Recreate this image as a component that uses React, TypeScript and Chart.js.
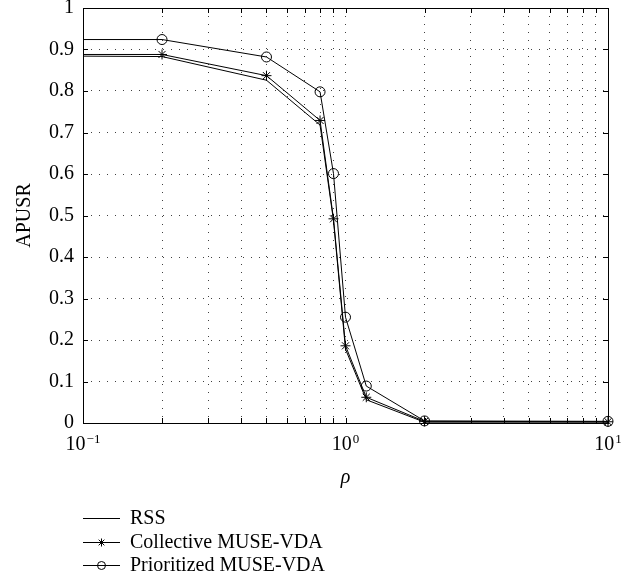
import React, { useEffect, useRef } from 'react';
import { Chart, registerables } from 'chart.js';

Chart.register(...registerables);

// ---- data ----
const rho = [0.1, 0.2, 0.5, 0.8, 0.9, 1.0, 1.2, 2, 10];
const rss = [0.884, 0.883, 0.826, 0.718, 0.488, 0.178, 0.056, 0.002, 0.002];
const collective = [0.888, 0.888, 0.837, 0.729, 0.492, 0.186, 0.062, 0.004, 0.003];
const prioritized = [0.924, 0.924, 0.882, 0.798, 0.601, 0.255, 0.089, 0.005, 0.004];
const seriesNames = ['RSS', 'Collective MUSE-VDA', 'Prioritized MUSE-VDA'];

const xGridTicks = [0.1, 0.2, 0.3, 0.4, 0.5, 0.6, 0.7, 0.8, 0.9, 1, 2, 3, 4, 5, 6, 7, 8, 9, 10];
const xMajorTicks = [0.1, 1, 10];
const xMajorBase = ['10', '10', '10'];
const xMajorExponents = ['\u22121', '0', '1'];
const yTicks = [0, 0.1, 0.2, 0.3, 0.4, 0.5, 0.6, 0.7, 0.8, 0.9, 1];
const yTickLabels = ['0', '0.1', '0.2', '0.3', '0.4', '0.5', '0.6', '0.7', '0.8', '0.9', '1'];

const xTitle = '\u03C1';
const yTitle = 'APUSR';

const FONT = "'Liberation Serif', 'Times New Roman', serif";

const decorPlugin = {
  id: 'decor',
  afterDraw(chart: any) {
    const { ctx, chartArea } = chart;
    const { left, right, top, bottom } = chartArea;
    const xs = chart.scales.x;
    const ys = chart.scales.y;
    ctx.save();
    ctx.strokeStyle = '#000';
    ctx.lineWidth = 1;
    ctx.setLineDash([]);
    // box
    ctx.strokeRect(Math.round(left) + 0.5, Math.round(top) + 0.5, Math.round(right - left), Math.round(bottom - top));
    // inward ticks
    const tl = 5;
    ctx.beginPath();
    xGridTicks.forEach((v) => {
      const px = Math.round(xs.getPixelForValue(v)) + 0.5;
      if (px <= left + 1 || px >= right - 1) return;
      ctx.moveTo(px, bottom);
      ctx.lineTo(px, bottom - tl);
      ctx.moveTo(px, top);
      ctx.lineTo(px, top + tl);
    });
    yTicks.forEach((v) => {
      const py = Math.round(ys.getPixelForValue(v)) + 0.5;
      if (py <= top + 1 || py >= bottom - 1) return;
      ctx.moveTo(left, py);
      ctx.lineTo(left + tl, py);
      ctx.moveTo(right, py);
      ctx.lineTo(right - tl, py);
    });
    ctx.stroke();

    // x tick labels with superscripts
    ctx.fillStyle = '#000';
    ctx.textBaseline = 'alphabetic';
    ctx.textAlign = 'left';
    xMajorTicks.forEach((v, i) => {
      const px = xs.getPixelForValue(v);
      ctx.font = `20px ${FONT}`;
      const bw = ctx.measureText(xMajorBase[i]).width;
      ctx.font = `13px ${FONT}`;
      const ew = ctx.measureText(xMajorExponents[i]).width;
      const total = bw + 1 + ew;
      const x0 = px - total / 2;
      ctx.font = `20px ${FONT}`;
      ctx.fillText(xMajorBase[i], x0, bottom + 27);
      ctx.font = `13px ${FONT}`;
      ctx.fillText(xMajorExponents[i], x0 + bw + 1, bottom + 20);
    });

    // legend
    const rowY0 = 518;
    const rowH = 23.5;
    chart.data.datasets.forEach((ds: any, i: number) => {
      const y = Math.round(rowY0 + i * rowH) + 0.5;
      ctx.strokeStyle = '#000';
      ctx.lineWidth = 1;
      ctx.beginPath();
      ctx.moveTo(83, y);
      ctx.lineTo(120, y);
      ctx.stroke();
      const cx = 101.5;
      if (ds.pointStyle === 'circle') {
        ctx.beginPath();
        ctx.arc(cx, y, 4, 0, Math.PI * 2);
        ctx.stroke();
      } else if (ds.pointStyle === 'star') {
        const r = 4;
        ctx.beginPath();
        for (let k = 0; k < 4; k++) {
          const a = (k * Math.PI) / 4;
          ctx.moveTo(cx - r * Math.cos(a), y - r * Math.sin(a));
          ctx.lineTo(cx + r * Math.cos(a), y + r * Math.sin(a));
        }
        ctx.stroke();
      }
      ctx.fillStyle = '#000';
      ctx.font = `20px ${FONT}`;
      ctx.textBaseline = 'middle';
      ctx.textAlign = 'left';
      ctx.fillText(ds.label, 130, y);
    });
    ctx.restore();
  },
};

export default function App() {
  const ref = useRef<HTMLCanvasElement>(null);
  useEffect(() => {
    const radii = rho.map((_, i) => (i === 0 ? 0 : 5));
    const mk = (vals: number[]) => rho.map((x, i) => ({ x, y: vals[i] }));
    const chart = new Chart(ref.current as HTMLCanvasElement, {
      type: 'line',
      data: {
        datasets: [
          {
            label: seriesNames[0],
            data: mk(rss),
            borderColor: '#000',
            borderWidth: 1,
            pointRadius: 0,
            pointStyle: false as any,
            tension: 0,
            clip: false as any,
          },
          {
            label: seriesNames[1],
            data: mk(collective),
            borderColor: '#000',
            borderWidth: 1,
            pointStyle: 'star',
            pointRadius: radii,
            pointBorderColor: '#000',
            pointBackgroundColor: 'rgba(0,0,0,0)',
            pointBorderWidth: 1,
            tension: 0,
            clip: false as any,
          },
          {
            label: seriesNames[2],
            data: mk(prioritized),
            borderColor: '#000',
            borderWidth: 1,
            pointStyle: 'circle',
            pointRadius: radii,
            pointBorderColor: '#000',
            pointBackgroundColor: 'rgba(0,0,0,0)',
            pointBorderWidth: 1,
            tension: 0,
            clip: false as any,
          },
        ],
      },
      options: {
        responsive: false,
        animation: false,
        events: [],
        layout: { padding: { left: 0, right: 22, top: 8, bottom: 86 } },
        plugins: { legend: { display: false }, tooltip: { enabled: false } },
        scales: {
          x: {
            type: 'logarithmic',
            min: 0.1,
            max: 10,
            afterBuildTicks: (s: any) => {
              s.ticks = xGridTicks.map((v) => ({ value: v }));
            },
            afterFit: (s: any) => {
              s.height = 70;
              s.paddingLeft = 0;
              s.paddingRight = 0;
            },
            ticks: { display: false },
            grid: { color: 'rgba(0,0,0,0.75)', lineWidth: 1, drawTicks: false },
            border: { display: false, dash: [1, 7] },
            title: {
              display: true,
              text: xTitle,
              color: '#000',
              font: { family: FONT, size: 20, style: 'italic' },
              padding: { top: 0, bottom: 3 },
            },
          },
          y: {
            type: 'linear',
            min: 0,
            max: 1,
            afterBuildTicks: (s: any) => {
              s.ticks = yTicks.map((v) => ({ value: v }));
            },
            afterFit: (s: any) => {
              s.width = 83;
              s.paddingTop = 0;
              s.paddingBottom = 0;
            },
            ticks: {
              color: '#000',
              padding: 9,
              font: { family: FONT, size: 20 },
              callback: (v: any) => {
                const idx = yTicks.findIndex((t) => Math.abs(t - Number(v)) < 1e-9);
                return idx >= 0 ? yTickLabels[idx] : '';
              },
            },
            grid: { color: 'rgba(0,0,0,0.75)', lineWidth: 1, drawTicks: false },
            border: { display: false, dash: [1, 7] },
            title: {
              display: true,
              text: yTitle,
              color: '#000',
              font: { family: FONT, size: 20 },
              padding: { top: 13, bottom: 0 },
            },
          },
        },
      },
      plugins: [decorPlugin],
    } as any);
    return () => chart.destroy();
  }, []);
  return (
    <div style={{ position: 'fixed', left: 0, top: 0, width: 630, height: 579, background: '#fff' }}>
      <canvas ref={ref} width={630} height={579} style={{ display: 'block' }} />
    </div>
  );
}
